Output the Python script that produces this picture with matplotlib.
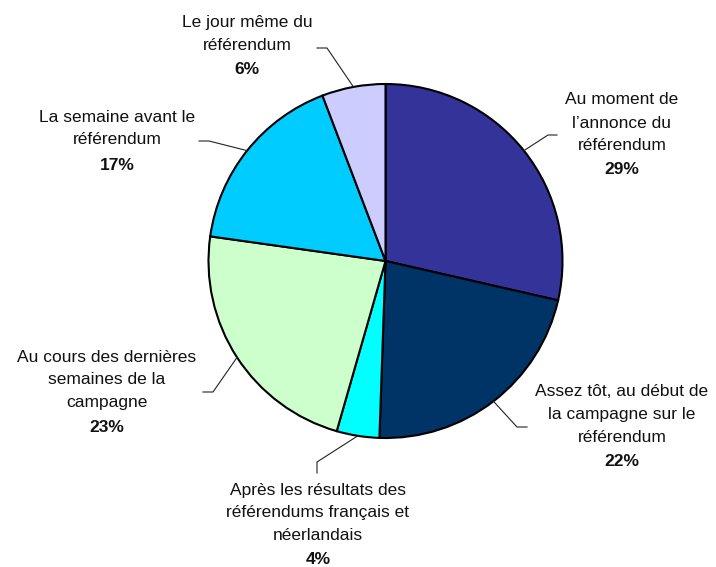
import numpy as np
import matplotlib
matplotlib.use("Agg")
import matplotlib.pyplot as plt

# ---- data ----
categories = [
    "Au moment de\nl\u2019annonce du\nréférendum",
    "Assez tôt, au début de\nla campagne sur le\nréférendum",
    "Après les résultats des\nréférendums français et\nnéerlandais",
    "Au cours des dernières\nsemaines de la\ncampagne",
    "La semaine avant le\nréférendum",
    "Le jour même du\nréférendum",
]
values = [28.6, 22.0, 3.9, 22.8, 17.0, 5.8]
pct_labels = ["29%", "22%", "4%", "23%", "17%", "6%"]
colors = ["#333399", "#003366", "#00FFFF", "#CCFFCC", "#00CCFF", "#CCCCFF"]

# ---- layout (pixels in the 716x567 image) ----
W, H = 716, 567
CX, CY, R = 385.5, 261.0, 177.0
label_xy = [(622, 100), (622, 392), (318, 490), (107, 357), (117, 117), (247, 23)]
pct_y = [170, 462, 560, 428, 165, 70]
elbows = [((548, 135), (557, 135)), ((517, 427), (527, 427)), ((317, 462), (317, 473)),
          ((213, 392), (203, 392)), ((209, 141), (199, 141)), ((327, 48), (317, 48))]
LINE_DY = 23


def px(x, y):
    return (x - CX) / R, (CY - y) / R


plt.rcParams['font.family'] = ['Liberation Sans', 'DejaVu Sans']
fig = plt.figure(figsize=(W / 100, H / 100), dpi=100)
ax = fig.add_axes([0, 0, 1, 1])

wedges, _ = ax.pie(values, colors=colors, startangle=90, counterclock=False,
                   radius=1.0, center=(0, 0),
                   wedgeprops=dict(edgecolor="black", linewidth=1.5))
ax.set_aspect('auto')
ax.set_xlim(-CX / R, (W - CX) / R)
ax.set_ylim((CY - H) / R, CY / R)
ax.axis('off')

for i, w in enumerate(wedges):
    mid = np.deg2rad((w.theta1 + w.theta2) / 2)
    x0, y0 = np.cos(mid), np.sin(mid)
    (ex, ey), (sx, sy) = elbows[i]
    x1, y1 = px(ex, ey)
    x2, y2 = px(sx, sy)
    ax.plot([x0, x1, x2], [y0, y1, y2], color="#222222", lw=0.8, zorder=3)

    lx, ly = label_xy[i]
    for j, line in enumerate(categories[i].split("\n")):
        tx, ty = px(lx, ly + j * LINE_DY)
        ax.text(tx, ty, line, ha='center', va='center', fontsize=12.5, color="#111111")
    tx, ty = px(lx, pct_y[i])
    ax.text(tx, ty, pct_labels[i], ha='center', va='center', fontsize=12.5,
            fontweight='bold', color="#111111")

fig.savefig("out.png", dpi=100, facecolor="white")
